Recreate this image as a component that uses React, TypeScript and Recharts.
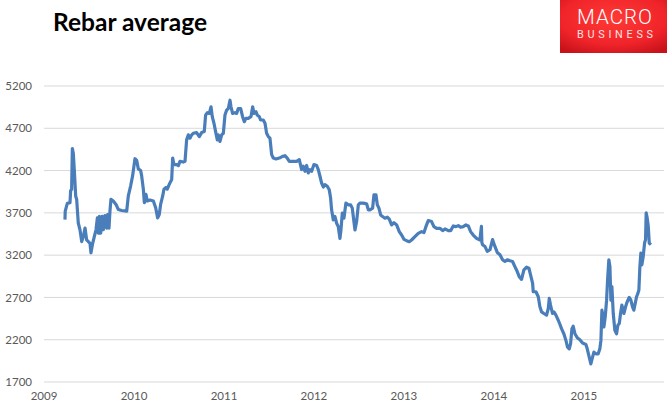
import { LineChart, Line, XAxis, YAxis, CartesianGrid } from 'recharts';

// decimal years
const dates = [
  2009.233, 2009.236, 2009.259, 2009.289, 2009.296, 2009.307, 2009.315, 2009.326, 2009.337, 2009.352,
  2009.363, 2009.381, 2009.4, 2009.419, 2009.437, 2009.456, 2009.474, 2009.493, 2009.511, 2009.522,
  2009.541, 2009.559, 2009.578, 2009.593, 2009.604, 2009.615, 2009.63, 2009.648, 2009.659, 2009.678,
  2009.696, 2009.707, 2009.722, 2009.733, 2009.744, 2009.77, 2009.8, 2009.826, 2009.863, 2009.919,
  2009.937, 2009.963, 2009.985, 2010.011, 2010.03, 2010.048, 2010.074, 2010.085, 2010.104, 2010.115,
  2010.133, 2010.148, 2010.178, 2010.215, 2010.241, 2010.263, 2010.281, 2010.296, 2010.319, 2010.333,
  2010.356, 2010.37, 2010.393, 2010.419, 2010.43, 2010.444, 2010.474, 2010.493, 2010.511, 2010.548,
  2010.567, 2010.585, 2010.604, 2010.622, 2010.641, 2010.659, 2010.696, 2010.726, 2010.752, 2010.781,
  2010.796, 2010.815, 2010.837, 2010.856, 2010.87, 2010.889, 2010.907, 2010.926, 2010.937, 2010.956,
  2010.974, 2010.993, 2011.011, 2011.03, 2011.048, 2011.067, 2011.078, 2011.096, 2011.122, 2011.141,
  2011.159, 2011.185, 2011.207, 2011.226, 2011.244, 2011.27, 2011.3, 2011.319, 2011.333, 2011.356,
  2011.37, 2011.393, 2011.407, 2011.437, 2011.456, 2011.474, 2011.493, 2011.511, 2011.53, 2011.548,
  2011.578, 2011.615, 2011.652, 2011.678, 2011.703, 2011.726, 2011.763, 2011.807, 2011.837, 2011.863,
  2011.881, 2011.9, 2011.919, 2011.937, 2011.956, 2011.974, 2012.0, 2012.03, 2012.048, 2012.067,
  2012.085, 2012.104, 2012.122, 2012.148, 2012.17, 2012.185, 2012.196, 2012.215, 2012.233, 2012.252,
  2012.27, 2012.289, 2012.3, 2012.315, 2012.333, 2012.355, 2012.381, 2012.407, 2012.426, 2012.444,
  2012.456, 2012.474, 2012.493, 2012.511, 2012.548, 2012.585, 2012.604, 2012.622, 2012.652, 2012.667,
  2012.689, 2012.704, 2012.722, 2012.741, 2012.763, 2012.789, 2012.815, 2012.837, 2012.863, 2012.889,
  2012.919, 2012.948, 2012.974, 2013.0, 2013.03, 2013.059, 2013.085, 2013.122, 2013.159, 2013.196,
  2013.222, 2013.244, 2013.27, 2013.307, 2013.333, 2013.363, 2013.4, 2013.43, 2013.456, 2013.493,
  2013.519, 2013.548, 2013.578, 2013.604, 2013.63, 2013.659, 2013.689, 2013.715, 2013.741, 2013.77,
  2013.807, 2013.844, 2013.861, 2013.866, 2013.874, 2013.9, 2013.926, 2013.956, 2013.985, 2014.011,
  2014.037, 2014.067, 2014.096, 2014.122, 2014.148, 2014.178, 2014.207, 2014.233, 2014.259, 2014.281,
  2014.307, 2014.333, 2014.363, 2014.389, 2014.407, 2014.43, 2014.437, 2014.467, 2014.493, 2014.511,
  2014.53, 2014.555, 2014.585, 2014.604, 2014.615, 2014.629, 2014.651, 2014.667, 2014.689, 2014.715,
  2014.733, 2014.751, 2014.777, 2014.8, 2014.818, 2014.837, 2014.852, 2014.867, 2014.881, 2014.9,
  2014.926, 2014.955, 2014.985, 2015.022, 2015.037, 2015.059, 2015.077, 2015.096, 2015.111, 2015.133,
  2015.159, 2015.177, 2015.189, 2015.2, 2015.215, 2015.222, 2015.237, 2015.252, 2015.263, 2015.277,
  2015.289, 2015.3, 2015.311, 2015.326, 2015.344, 2015.363, 2015.377, 2015.393, 2015.407, 2015.422,
  2015.444, 2015.463, 2015.481, 2015.503, 2015.522, 2015.54, 2015.555, 2015.57, 2015.585, 2015.6,
  2015.611, 2015.622, 2015.633, 2015.644, 2015.659, 2015.674, 2015.685, 2015.692, 2015.703, 2015.715,
  2015.726, 2015.744,
];

const prices = [
  3620, 3720, 3812, 3820, 3960, 3980, 4460, 4400, 4200, 3900,
  3860, 3580, 3500, 3360, 3420, 3520, 3380, 3360, 3340, 3228,
  3340, 3420, 3500, 3640, 3460, 3660, 3460, 3660, 3500, 3668,
  3520, 3680, 3520, 3720, 3860, 3840, 3800, 3740, 3728, 3720,
  3900, 4020, 4140, 4340, 4320, 4220, 4200, 4140, 3980, 3820,
  3920, 3840, 3852, 3840, 3760, 3640, 3680, 3800, 3900, 3980,
  4000, 3980, 4040, 4095, 4348, 4270, 4270, 4258, 4309, 4301,
  4309, 4563, 4622, 4583, 4622, 4641, 4649, 4602, 4649, 4661,
  4856, 4884, 4876, 4954, 4837, 4759, 4661, 4563, 4622, 4544,
  4622, 4641, 4856, 4915, 4934, 5032, 4954, 4876, 4884, 4876,
  4934, 4934, 4837, 4778, 4817, 4817, 4837, 4954, 4876, 4895,
  4856, 4837, 4798, 4798, 4759, 4641, 4602, 4583, 4388, 4348,
  4337, 4348, 4368, 4376, 4348, 4309, 4309, 4309, 4329, 4212,
  4252, 4192, 4260, 4172, 4212, 4192, 4271, 4260, 4212, 4133,
  4053, 4006, 4034, 4014, 3974, 3875, 3736, 3617, 3657, 3577,
  3537, 3398, 3498, 3696, 3637, 3815, 3795, 3795, 3756, 3597,
  3498, 3597, 3795, 3815, 3815, 3807, 3736, 3736, 3756, 3914,
  3914, 3795, 3756, 3676, 3657, 3637, 3649, 3625, 3557, 3585,
  3557, 3478, 3438, 3387, 3371, 3359, 3379, 3418, 3458, 3478,
  3466, 3537, 3609, 3597, 3537, 3517, 3517, 3490, 3510, 3490,
  3490, 3545, 3537, 3549, 3529, 3537, 3557, 3545, 3478, 3438,
  3398, 3380, 3540, 3350, 3323, 3303, 3244, 3264, 3383, 3303,
  3232, 3204, 3145, 3125, 3145, 3133, 3125, 3065, 3006, 2946,
  2914, 3026, 3057, 3045, 2966, 2867, 2767, 2767, 2708, 2589,
  2529, 2510, 2490, 2569, 2688, 2609, 2510, 2529, 2490, 2430,
  2383, 2331, 2271, 2192, 2113, 2093, 2153, 2331, 2359, 2271,
  2224, 2200, 2160, 2144, 2093, 1994, 1914, 1994, 2053, 2033,
  2033, 2093, 2192, 2549, 2470, 2351, 2470, 2668, 2906, 3145,
  3065, 2668, 2827, 2510, 2311, 2271, 2371, 2391, 2510, 2609,
  2510, 2589, 2648, 2700, 2668, 2589, 2549, 2629, 2708, 2748,
  2788, 3065, 3224, 3085, 3184, 3343, 3383, 3700, 3641, 3541,
  3343, 3323,
];

const yearTicks = [2009, 2010, 2011, 2012, 2013, 2014, 2015];
const priceTicks = [1700, 2200, 2700, 3200, 3700, 4200, 4700, 5200];

const data = dates.map((t, i) => ({ t, price: prices[i] }));

const tickStyle = { fontFamily: 'Lato', fontSize: 11.5, fill: '#595959' };

export default function App() {
  return (
    <div style={{ position: 'absolute', left: 0, top: 0, width: 667, height: 414, background: '#fff' }}>
      <LineChart width={667} height={414} data={data} margin={{ top: 86, right: 3, left: 0, bottom: 12 }}>
        <CartesianGrid vertical={false} stroke="#d9d9d9" strokeWidth={1} />
        <XAxis
          type="number"
          dataKey="t"
          domain={[2009, 2015.89]}
          ticks={yearTicks}
          interval={0}
          height={20}
          axisLine={false}
          tickLine={false}
          tickSize={0}
          tickMargin={10}
          tick={tickStyle}
        />
        <YAxis
          domain={[1700, 5200]}
          ticks={priceTicks}
          interval={0}
          width={44}
          axisLine={false}
          tickLine={false}
          tickSize={0}
          tickMargin={12}
          tick={tickStyle}
        />
        <Line
          type="linear"
          dataKey="price"
          stroke="#4a7ebb"
          strokeWidth={3.2}
          strokeLinejoin="round"
          dot={false}
          isAnimationActive={false}
        />
      </LineChart>
      <svg width={667} height={414} style={{ position: 'absolute', left: 0, top: 0, pointerEvents: 'none' }}>
        <defs>
          <radialGradient id="logoRed" cx="50%" cy="35%" r="75%">
            <stop offset="0%" stopColor="#ff3a35" />
            <stop offset="65%" stopColor="#f0242a" />
            <stop offset="100%" stopColor="#c7121a" />
          </radialGradient>
        </defs>
        <text x={53} y={30.7} fontFamily="Lato" fontWeight={700} fontSize={24} fill="#000" textLength={154} lengthAdjust="spacingAndGlyphs">
          Rebar average
        </text>
        <rect x={560} y={0} width={107} height={53} fill="url(#logoRed)" />
        <text x={577} y={24} fontFamily="Roboto" fontWeight={300} fontSize={20.5} fill="#fff" textLength={75}>
          MACRO
        </text>
        <text x={577} y={38.3} fontFamily="Roboto" fontWeight={400} fontSize={10.8} fill="#ffe2e2" textLength={76}>
          BUSINESS
        </text>
      </svg>
    </div>
  );
}
